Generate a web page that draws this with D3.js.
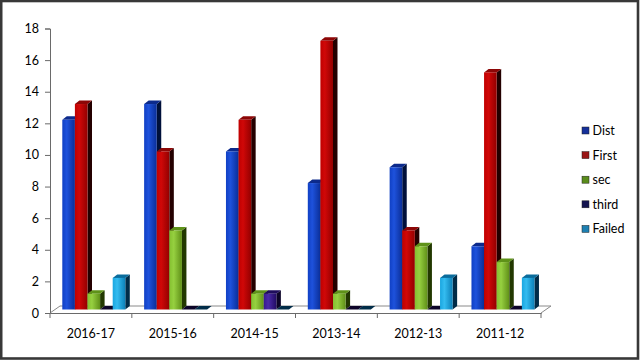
<!DOCTYPE html>
<html><head><meta charset="utf-8">
<script src="https://cdn.jsdelivr.net/npm/d3@7"></script>
<style>html,body{margin:0;padding:0;background:#fff;}svg{display:block;}</style>
</head><body>
<svg id="c" width="640" height="360"></svg>
<script>
const categories = ["2016-17","2015-16","2014-15","2013-14","2012-13","2011-12"];
const seriesNames = ["Dist","First","sec","third","Failed"];
const Dist   = [12,13,10,8,9,4];
const First  = [13,10,12,17,5,15];
const sec    = [1,5,1,1,4,3];
const third  = [0,0,1,0,0,0];
const Failed = [2,0,0,0,2,2];
const yTicks = [0,2,4,6,8,10,12,14,16,18];
const seriesValues = [Dist, First, sec, third, Failed];

const colors = {
  Dist:   {a:"#1e52dc", b:"#1040c4", c:"#0a2e98", side:"#00103a", top:"#0c2a8c", sw:"#15309a"},
  First:  {a:"#d00808", b:"#c00000", c:"#940000", side:"#240000", top:"#8c0606", sw:"#9a1616"},
  sec:    {a:"#96d040", b:"#84c030", c:"#609018", side:"#223800", top:"#5e9218", sw:"#5a8c1c"},
  third:  {a:"#4a2aa8", b:"#36188e", c:"#220c64", side:"#0c0428", top:"#1e0c5c", sw:"#141450"},
  Failed: {a:"#34bcf0", b:"#1aa6e0", c:"#0c80b8", side:"#002c48", top:"#0a6c9c", sw:"#1e80b2"}
};

const svg = d3.select("#c");
const font = "Lato, 'Open Sans', sans-serif";

// frame
svg.append("rect").attr("x",1.2).attr("y",1).attr("width",636.8).attr("height",357.5)
  .attr("fill","#fff").attr("stroke","#383838").attr("stroke-width",2.6);

const defs = svg.append("defs");
seriesNames.forEach(s => {
  const g = defs.append("linearGradient").attr("id","g_"+s).attr("x1","0").attr("x2","1").attr("y1","0").attr("y2","0");
  g.append("stop").attr("offset","0").attr("stop-color",colors[s].b);
  g.append("stop").attr("offset","0.35").attr("stop-color",colors[s].a);
  g.append("stop").attr("offset","1").attr("stop-color",colors[s].c);
});

const x0 = d3.scaleBand().domain(categories).range([50, 541]).padding(0);
const x1 = d3.scaleBand().domain(seriesNames).range([12.3, 75.3]).padding(0);
const y = d3.scaleLinear().domain([0,18]).range([313, 28.5]);

// floor
const fdx = 10, fdy = -7;
svg.append("path")
  .attr("d", `M${x0.range()[0]},${y(0)} L${x0.range()[0]+fdx},${y(0)+fdy} L${x0.range()[1]+fdx},${y(0)+fdy} L${x0.range()[1]},${y(0)}`)
  .attr("fill","none").attr("stroke","#8a8a8a").attr("stroke-width",1);

// y axis
const yAxis = d3.axisLeft(y).tickValues(yTicks).tickSize(5).tickPadding(6);
const ya = svg.append("g").attr("transform","translate(50,0)").call(yAxis);
ya.select(".domain").attr("stroke","#6a6a6a");
ya.selectAll(".tick line").attr("stroke","#6a6a6a");
ya.selectAll("text").attr("font-family",font).attr("font-size",12.5).attr("fill","#000");

// x axis
const xAxis = d3.axisBottom(x0).tickSize(0).tickPadding(16);
const xa = svg.append("g").attr("transform",`translate(0,${y(0)})`).call(xAxis);
xa.select(".domain").attr("stroke","#6a6a6a");
xa.selectAll("text").attr("font-family",font).attr("font-size",12.5).attr("fill","#000");
const bounds = categories.map(c => x0(c)).concat([x0.range()[1]]);
svg.append("g").selectAll("line").data(bounds).join("line")
  .attr("x1",d=>d).attr("x2",d=>d).attr("y1",y(0)).attr("y2",y(0)+5)
  .attr("stroke","#6a6a6a");

// bars
const dx = 4.5, dy = -3.5, off = 3.5;
const bars = svg.append("g");
categories.forEach((cat, ci) => {
  seriesNames.forEach((s, si) => {
    const v = seriesValues[si][ci];
    const xl = x0(cat) + x1(s), w = x1.bandwidth();
    const yb = y(0) - off, yt = y(v) - off;
    const c = colors[s];
    if (v > 0) {
      bars.append("path").attr("d",`M${xl+w},${yt} L${xl+w+dx},${yt+dy} L${xl+w+dx},${yb+dy} L${xl+w},${yb}Z`).attr("fill",c.side);
      bars.append("path").attr("d",`M${xl},${yt} L${xl+dx},${yt+dy} L${xl+w+dx},${yt+dy} L${xl+w},${yt}Z`).attr("fill",c.top);
      bars.append("rect").attr("x",xl).attr("y",yt).attr("width",w).attr("height",yb-yt).attr("fill",`url(#g_${s})`);
    } else {
      bars.append("path").attr("d",`M${xl},${yb} L${xl+dx},${yb+dy} L${xl+w+dx},${yb+dy} L${xl+w},${yb}Z`).attr("fill",c.side);
    }
  });
});

// legend
const lg = svg.append("g");
seriesNames.forEach((s, i) => {
  const cy = 130.5 + i*24.6;
  lg.append("rect").attr("x",582).attr("y",cy-3.5).attr("width",7).attr("height",7)
    .attr("fill",colors[s].sw).attr("stroke","#222").attr("stroke-width",0.5);
  lg.append("text").attr("x",592.5).attr("y",cy+4.5).text(s)
    .attr("font-family",font).attr("font-size",12.5).attr("fill","#000");
});
</script>
</body></html>
